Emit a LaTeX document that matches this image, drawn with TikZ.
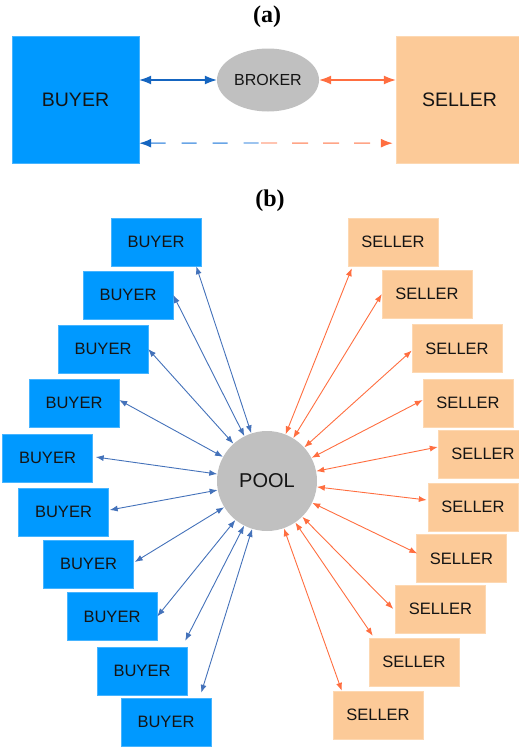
\documentclass[tikz,border=0pt]{standalone}
\usepackage{fontspec}
\setmainfont{Liberation Sans}
\newfontfamily\titlefont{Liberation Serif}
\usetikzlibrary{arrows.meta,shapes.geometric}
\definecolor{boxblue}{RGB}{0,153,255}
\definecolor{boxblueedge}{RGB}{70,180,255}
\definecolor{boxorange}{RGB}{252,202,152}
\definecolor{boxorangeedge}{RGB}{253,216,178}
\definecolor{poolgray}{RGB}{192,192,192}
\definecolor{arrblue}{RGB}{68,114,186}
\definecolor{arrorange}{RGB}{255,110,64}
\definecolor{abluedark}{RGB}{21,101,192}
\definecolor{dashblue}{RGB}{105,165,230}
\definecolor{dashorange}{RGB}{255,165,135}
\definecolor{txt}{RGB}{20,20,20}
\tikzset{
  titlelbl/.style={font=\titlefont\bfseries\fontsize{24}{26}\selectfont, text=black, inner sep=0pt},
  bigbuyer/.style={rectangle, fill=boxblue, draw=boxblueedge, minimum width=127pt, minimum height=127pt, inner sep=0pt, font=\fontsize{19.5}{22}\selectfont, text=txt},
  bigseller/.style={rectangle, fill=boxorange, draw=boxorangeedge, minimum width=127pt, minimum height=127pt, inner sep=0pt, font=\fontsize{19.5}{22}\selectfont, text=txt},
  brokernode/.style={ellipse, fill=poolgray, minimum width=102pt, minimum height=63pt, inner sep=0pt, font=\fontsize{16}{18}\selectfont, text=txt},
  buyerbox/.style={rectangle, fill=boxblue, draw=boxblueedge, minimum width=90pt, minimum height=48pt, inner sep=0pt, font=\fontsize{16.5}{18}\selectfont, text=txt},
  sellerbox/.style={rectangle, fill=boxorange, draw=boxorangeedge, minimum width=90pt, minimum height=48pt, inner sep=0pt, font=\fontsize{16.5}{18}\selectfont, text=txt},
  poolnode/.style={circle, fill=poolgray, minimum size=100pt, inner sep=0pt, font=\fontsize{20}{22}\selectfont, text=txt},
  blink/.style={draw=arrblue, line width=0.9pt, {Latex[length=8pt,width=6pt]}-{Latex[length=8pt,width=6pt]}},
  olink/.style={draw=arrorange, line width=0.9pt, {Latex[length=8pt,width=6pt]}-{Latex[length=8pt,width=6pt]}},
  abl/.style={draw=abluedark, line width=1.1pt, {Latex[length=12pt,width=9pt]}-{Latex[length=12pt,width=9pt]}},
  aol/.style={draw=arrorange, line width=1.1pt, {Latex[length=12pt,width=9pt]}-{Latex[length=12pt,width=9pt]}},
}
\begin{document}
\begin{tikzpicture}[x=1pt,y=-1pt]
\useasboundingbox (0,0) rectangle (519,747);
\clip (0,0) rectangle (519,747);
% ---------- (a)
\node[titlelbl] (ta) at (267,17) {(a)};
\node[bigbuyer] (buyer) at (75.5,99.5) {BUYER};
\node[bigseller] (seller) at (459.5,99.5) {SELLER};
\node[brokernode] (broker) at (268,80) {BROKER};
\draw[abl] (buyer.east |- broker) -- (broker);
\draw[aol] (broker) -- (seller.west |- broker);
\coordinate (mid) at (261,143);
\draw[draw=dashblue, line width=1.4pt, dash pattern=on 15pt off 16pt, {Latex[length=12pt,width=9pt,color=abluedark]}-] ([yshift=20pt]buyer.south east) -- (mid);
\draw[draw=dashorange, line width=1.4pt, dash pattern=on 16pt off 15pt, -{Latex[length=12pt,width=9pt,color=arrorange]}] (mid) -- ([xshift=-3pt,yshift=20pt]seller.south west);
% ---------- (b)
\node[titlelbl] (tb) at (270,201) {(b)};
\node[poolnode] (pool) at (267,481) {POOL};
\node[buyerbox] (b1) at (156,242) {BUYER};
\node[buyerbox] (b2) at (128,295) {BUYER};
\node[buyerbox] (b3) at (103,349) {BUYER};
\node[buyerbox] (b4) at (74,403) {BUYER};
\node[buyerbox] (b5) at (47.5,458) {BUYER};
\node[buyerbox] (b6) at (63.5,512) {BUYER};
\node[buyerbox] (b7) at (88.5,564) {BUYER};
\node[buyerbox] (b8) at (112,616.5) {BUYER};
\node[buyerbox] (b9) at (142,671) {BUYER};
\node[buyerbox] (b10) at (166,722) {BUYER};
\node[sellerbox] (s1) at (393,242) {SELLER};
\node[sellerbox] (s2) at (427,294) {SELLER};
\node[sellerbox] (s3) at (457,348.5) {SELLER};
\node[sellerbox] (s4) at (468,403) {SELLER};
\node[sellerbox] (s5) at (483,454) {SELLER};
\node[sellerbox] (s6) at (473,507) {SELLER};
\node[sellerbox] (s7) at (461.5,558.5) {SELLER};
\node[sellerbox] (s8) at (440.5,609) {SELLER};
\node[sellerbox] (s9) at (414,662) {SELLER};
\node[sellerbox] (s10) at (378,715) {SELLER};
\draw[blink] ([xshift=-5pt]b1.south east) -- (pool);
\draw[blink] (b2.east) -- (pool);
\draw[blink] (b3.east) -- (pool);
\draw[blink] ([yshift=3pt]b4.east) -- (pool);
\draw[blink] ([xshift=3pt,yshift=1pt]b5.east) -- (pool);
\draw[blink] ([xshift=1pt,yshift=2pt]b6.east) -- (pool);
\draw[blink] ([xshift=1pt,yshift=2pt]b7.east) -- (pool);
\draw[blink] (b8.east) -- (pool);
\draw[blink] ([xshift=-2pt,yshift=6pt]b9.north east) -- (pool);
\draw[blink] ([xshift=-10pt,yshift=5pt]b10.north east) -- (pool);
\draw[olink] ([xshift=4pt,yshift=-2pt]s1.south west) -- (pool);
\draw[olink] (s2.west) -- (pool);
\draw[olink] ([yshift=-2pt]s3.west) -- (pool);
\draw[olink] ([yshift=3pt]s4.west) -- (pool);
\draw[olink] ([yshift=7pt]s5.west) -- (pool);
\draw[olink] ([xshift=-1pt,yshift=7pt]s6.west) -- (pool);
\draw[olink] ([xshift=1pt,yshift=5pt]s7.west) -- (pool);
\draw[olink] ([xshift=-2pt]s8.west) -- (pool);
\draw[olink] ([xshift=4pt,yshift=2pt]s9.north west) -- (pool);
\draw[olink] ([xshift=9pt]s10.north west) -- (pool);
\end{tikzpicture}
\end{document}
